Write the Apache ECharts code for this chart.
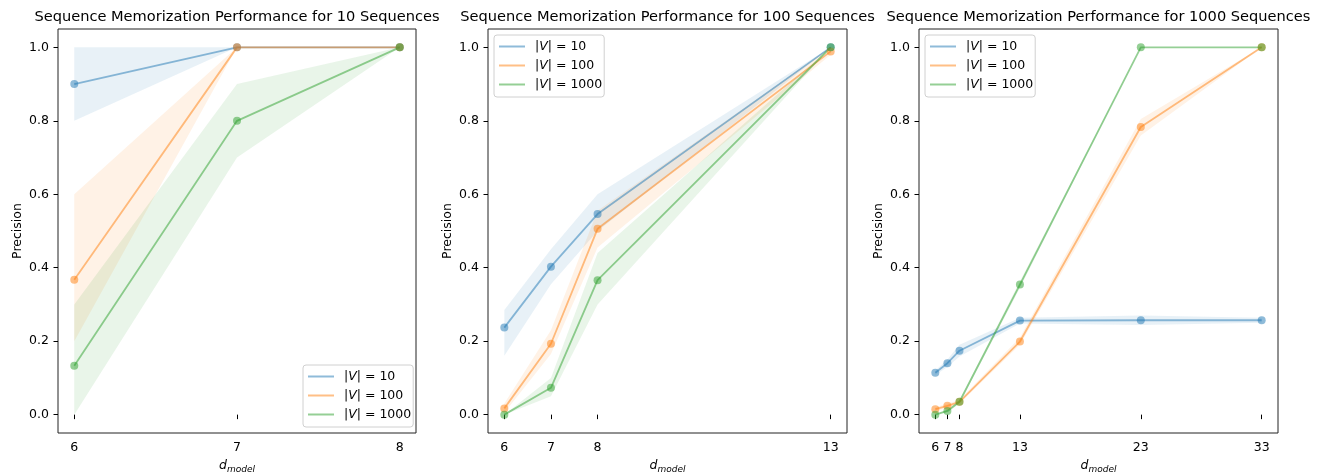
<!DOCTYPE html>
<html>
<head>
<meta charset="utf-8">
<script src="https://cdn.jsdelivr.net/npm/echarts@6/dist/echarts.min.js"></script>
<style>
html,body{margin:0;padding:0;background:#fff;}
#chart{width:1325px;height:476px;}
</style>
</head>
<body>
<div id="chart"></div>
<script>
// ---------- DATA ----------
const TITLES = [
  'Sequence Memorization Performance for 10 Sequences',
  'Sequence Memorization Performance for 100 Sequences',
  'Sequence Memorization Performance for 1000 Sequences'
];
const SERIES_NAMES = ['|V| = 10', '|V| = 100', '|V| = 1000'];
const Y_TICKS = [0.0, 0.2, 0.4, 0.6, 0.8, 1.0];

// Panel 1: 10 sequences
const P1_X = [6, 7, 8];
const P1_V10 = [0.9, 1.0, 1.0];
const P1_V10_LO = [0.8, 1.0, 1.0];
const P1_V10_HI = [1.0, 1.0, 1.0];
const P1_V100 = [0.367, 1.0, 1.0];
const P1_V100_LO = [0.2, 1.0, 1.0];
const P1_V100_HI = [0.6, 1.0, 1.0];
const P1_V1000 = [0.133, 0.8, 1.0];
const P1_V1000_LO = [0.0, 0.7, 1.0];
const P1_V1000_HI = [0.3, 0.9, 1.0];

// Panel 2: 100 sequences
const P2_X = [6, 7, 8, 13];
const P2_V10 = [0.237, 0.403, 0.546, 1.0];
const P2_V10_LO = [0.16, 0.355, 0.50, 1.0];
const P2_V10_HI = [0.285, 0.45, 0.60, 1.0];
const P2_V100 = [0.017, 0.193, 0.506, 0.989];
const P2_V100_LO = [0.005, 0.165, 0.455, 0.98];
const P2_V100_HI = [0.03, 0.23, 0.555, 1.0];
const P2_V1000 = [0.0, 0.073, 0.366, 1.0];
const P2_V1000_LO = [0.0, 0.05, 0.30, 1.0];
const P2_V1000_HI = [0.0, 0.10, 0.44, 1.0];

// Panel 3: 1000 sequences
const P3_X = [6, 7, 8, 13, 23, 33];
const P3_V10 = [0.114, 0.140, 0.174, 0.256, 0.257, 0.257];
const P3_V10_LO = [0.108, 0.130, 0.158, 0.248, 0.244, 0.250];
const P3_V10_HI = [0.120, 0.150, 0.190, 0.264, 0.270, 0.264];
const P3_V100 = [0.015, 0.024, 0.035, 0.199, 0.783, 1.0];
const P3_V100_LO = [0.010, 0.018, 0.030, 0.190, 0.760, 1.0];
const P3_V100_HI = [0.020, 0.030, 0.040, 0.210, 0.805, 1.0];
const P3_V1000 = [0.0, 0.010, 0.035, 0.354, 1.0, 1.0];
const P3_V1000_LO = [0.0, 0.006, 0.030, 0.345, 1.0, 1.0];
const P3_V1000_HI = [0.0, 0.014, 0.040, 0.363, 1.0, 1.0];

// ---------- STYLE ----------
const FONT = 'DejaVu Sans';
const COLORS = ['#1f77b4', '#ff7f0e', '#2ca02c'];
const LINE_COLORS = ['rgba(31,119,180,0.5)', 'rgba(255,127,14,0.5)', 'rgba(44,160,44,0.5)'];
const BAND_COLORS = ['rgba(31,119,180,0.1)', 'rgba(255,127,14,0.1)', 'rgba(44,160,44,0.1)'];

const PANELS = [
  {x: P1_X, vals: [P1_V10, P1_V100, P1_V1000], lo: [P1_V10_LO, P1_V100_LO, P1_V1000_LO], hi: [P1_V10_HI, P1_V100_HI, P1_V1000_HI]},
  {x: P2_X, vals: [P2_V10, P2_V100, P2_V1000], lo: [P2_V10_LO, P2_V100_LO, P2_V1000_LO], hi: [P2_V10_HI, P2_V100_HI, P2_V1000_HI]},
  {x: P3_X, vals: [P3_V10, P3_V100, P3_V1000], lo: [P3_V10_LO, P3_V100_LO, P3_V1000_LO], hi: [P3_V10_HI, P3_V100_HI, P3_V1000_HI]}
];

const GRIDS = [
  {left: 58, top: 29, width: 358, height: 404},
  {left: 488, top: 29, width: 359, height: 404},
  {left: 919, top: 29, width: 359, height: 404}
];
const LEGEND_POS = [
  {left: 303, top: 365},
  {left: 494, top: 35},
  {left: 925, top: 35}
];

function xRange(xs) {
  const lo = Math.min(...xs), hi = Math.max(...xs);
  const m = (hi - lo) * 0.05;
  return [lo - m, hi + m];
}

const option = {
  animation: false,
  backgroundColor: '#fff',
  textStyle: {fontFamily: FONT},
  title: [], grid: [], xAxis: [], yAxis: [], legend: [], series: []
};

PANELS.forEach((p, gi) => {
  const g = GRIDS[gi];
  option.grid.push({left: g.left, top: g.top, width: g.width, height: g.height,
    show: true, borderColor: '#222', borderWidth: 1, backgroundColor: 'transparent',
    containLabel: false, outerBoundsMode: 'none'});
  option.title.push({
    text: TITLES[gi], left: g.left + g.width / 2, top: 10, textAlign: 'center', padding: 0,
    textStyle: {fontFamily: FONT, fontSize: 14.6, fontWeight: 'normal', color: '#000'}
  });
  const xr = xRange(p.x);
  option.xAxis.push({
    type: 'value', gridIndex: gi, min: xr[0], max: xr[1],
    axisLine: {show: false}, splitLine: {show: false},
    axisTick: {show: true, customValues: p.x, length: 4.5, lineStyle: {color: '#000', width: 1}},
    axisLabel: {customValues: p.x, color: '#000', fontSize: 12.5, fontFamily: FONT, margin: 8},
    name: '{d|d}{s|model}', nameLocation: 'middle', nameGap: 22,
    nameTextStyle: {rich: {
      d: {fontFamily: FONT, fontStyle: 'italic', fontSize: 12.5, color: '#000', lineHeight: 16, verticalAlign: 'bottom', padding: [0, 0, 2, 0]},
      s: {fontFamily: FONT, fontStyle: 'italic', fontSize: 9, color: '#000', lineHeight: 16, verticalAlign: 'bottom'}
    }}
  });
  option.yAxis.push({
    type: 'value', gridIndex: gi, min: -0.05, max: 1.05,
    axisLine: {show: false}, splitLine: {show: false},
    axisTick: {show: true, customValues: Y_TICKS, length: 4.5, lineStyle: {color: '#000', width: 1}},
    axisLabel: {customValues: Y_TICKS, color: '#000', fontSize: 12.5, fontFamily: FONT, margin: 9,
      formatter: v => Number(v).toFixed(1)},
    name: 'Precision', nameLocation: 'middle', nameGap: 34, nameRotate: 90,
    nameTextStyle: {fontFamily: FONT, fontSize: 12.5, color: '#000'}
  });
  option.legend.push({
    orient: 'vertical', left: LEGEND_POS[gi].left, top: LEGEND_POS[gi].top,
    padding: [5, 2, 6, 5], itemGap: 6, itemWidth: 26, itemHeight: 2,
    backgroundColor: 'rgba(255,255,255,0.8)', borderColor: '#d0d0d0', borderWidth: 1, borderRadius: 3,
    selectedMode: false,
    data: SERIES_NAMES.map((n, si) => ({name: n, icon: 'rect', itemStyle: {color: LINE_COLORS[si], opacity: 1}})),
    formatter: name => name.replace('V', '{i|V}'),
    textStyle: {fontFamily: FONT, fontSize: 12.5, color: '#000', padding: [0, 0, 0, 5],
      rich: {i: {fontFamily: FONT, fontStyle: 'italic', fontSize: 12.5, color: '#000'}}}
  });
  // bands
  for (let si = 0; si < 3; si++) {
    const xs = p.x, lo = p.lo[si], hi = p.hi[si];
    option.series.push({
      type: 'custom', xAxisIndex: gi, yAxisIndex: gi, silent: true, z: 1,
      data: xs.map((x, i) => [x, lo[i], hi[i]]),
      encode: {x: 0, y: [1, 2]},
      renderItem: (params, api) => {
        if (params.dataIndex !== 0) return null;
        const pts = [];
        for (let i = 0; i < xs.length; i++) pts.push(api.coord([xs[i], hi[i]]));
        for (let i = xs.length - 1; i >= 0; i--) pts.push(api.coord([xs[i], lo[i]]));
        return {type: 'polygon', shape: {points: pts}, style: {fill: BAND_COLORS[si], stroke: null}};
      }
    });
  }
  // lines
  for (let si = 0; si < 3; si++) {
    option.series.push({
      type: 'line', name: SERIES_NAMES[si], xAxisIndex: gi, yAxisIndex: gi, z: 3,
      data: p.x.map((x, i) => [x, p.vals[si][i]]),
      symbol: 'circle', symbolSize: 8, showSymbol: true,
      itemStyle: {color: COLORS[si], opacity: 0.5, borderWidth: 0},
      lineStyle: {color: COLORS[si], width: 1.8, opacity: 0.5},
      emphasis: {disabled: true}
    });
  }
});

const chart = echarts.init(document.getElementById('chart'), null, {renderer: 'canvas'});
chart.setOption(option);
</script>
</body>
</html>
